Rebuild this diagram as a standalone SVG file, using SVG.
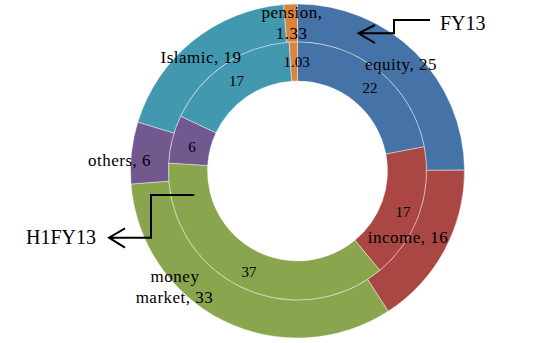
<svg xmlns="http://www.w3.org/2000/svg" width="541" height="343" viewBox="0 0 541 343">
<style>
.s{stroke:#ffffff;stroke-width:0.7;stroke-opacity:0.6}
.eq{fill:#4572A7}.inc{fill:#AA4643}.mm{fill:#89A54E}.oth{fill:#71588F}.isl{fill:#4198AF}.pen{fill:#DB843D}
.lbl{font-family:"Liberation Serif","Times New Roman",serif;font-size:17px;fill:#000;text-anchor:middle;letter-spacing:0.5px}
.num{font-family:"Liberation Serif","Times New Roman",serif;font-size:15px;fill:#000;text-anchor:middle}
.big{font-family:"Liberation Serif","Times New Roman",serif;font-size:20px;fill:#000}
.ln{fill:none;stroke:#000;stroke-width:2}
</style>
<rect width="541" height="343" fill="#ffffff"/>
<g id="outer-ring">
<path id="fy13-equity" class="eq s" d="M297.5,4 A167,167 0 0 1 464.50,170.14 L426.50,170.33 A129,129 0 0 0 297.5,42 Z"/>
<path id="fy13-income" class="inc s" d="M464.50,170.14 A167,167 0 0 1 388.18,311.24 L367.54,279.33 A129,129 0 0 0 426.50,170.33 Z"/>
<path id="fy13-money" class="mm s" d="M388.18,311.24 A167,167 0 0 1 131.01,184.03 L168.89,181.07 A129,129 0 0 0 367.54,279.33 Z"/>
<path id="fy13-others" class="oth s" d="M131.01,184.03 A167,167 0 0 1 137.84,122.03 L174.17,133.17 A129,129 0 0 0 168.89,181.07 Z"/>
<path id="fy13-islamic" class="isl s" d="M137.84,122.03 A167,167 0 0 1 283.61,4.58 L286.77,42.45 A129,129 0 0 0 174.17,133.17 Z"/>
<path id="fy13-pension" class="pen s" d="M283.61,4.58 A167,167 0 0 1 297.5,4 L297.5,42 A129,129 0 0 0 286.77,42.45 Z"/>
</g>
<g id="inner-ring">
<path id="h1-equity" class="eq s" d="M297.5,42 A129,129 0 0 1 424.21,146.77 L385.90,154.10 A90,90 0 0 0 297.5,81 Z"/>
<path id="h1-income" class="inc s" d="M424.21,146.77 A129,129 0 0 1 379.80,270.34 L354.92,240.31 A90,90 0 0 0 385.90,154.10 Z"/>
<path id="h1-money" class="mm s" d="M379.80,270.34 A129,129 0 0 1 168.74,163.08 L207.67,165.48 A90,90 0 0 0 354.92,240.31 Z"/>
<path id="h1-others" class="oth s" d="M168.74,163.08 A129,129 0 0 1 180.69,116.26 L216.01,132.81 A90,90 0 0 0 207.67,165.48 Z"/>
<path id="h1-islamic" class="isl s" d="M180.69,116.26 A129,129 0 0 1 289.16,42.27 L291.68,81.19 A90,90 0 0 0 216.01,132.81 Z"/>
<path id="h1-pension" class="pen s" d="M289.16,42.27 A129,129 0 0 1 297.5,42 L297.5,81 A90,90 0 0 0 291.68,81.19 Z"/>
</g>
<g id="outer-labels">
<text class="lbl" x="401" y="70">equity, 25</text>
<text class="lbl" x="408" y="243">income, 16</text>
<text class="lbl" x="175" y="282">money</text>
<text class="lbl" x="174.5" y="303">market, 33</text>
<text class="lbl" x="119.5" y="166">others, 6</text>
<text class="lbl" x="201" y="63">Islamic, 19</text>
<text class="lbl" x="292" y="18">pension,</text>
<text class="lbl" x="291.5" y="39">1.33</text>
</g>
<g id="inner-labels">
<text class="num" x="370" y="93">22</text>
<text class="num" x="403" y="217">17</text>
<text class="num" x="249" y="277">37</text>
<text class="num" x="192" y="152">6</text>
<text class="num" x="236.5" y="86">17</text>
<text class="num" x="296.5" y="67">1.03</text>
</g>
<g id="connectors">
<path class="ln" d="M430,20 H394 V33.3 H358.5 M375,25 L358.5,33.3 L375,43"/>
<path class="ln" d="M194.3,195 H151 V237.7 H109 M125,228.3 L109,237.7 L125,247.7"/>
</g>
<g id="legend-labels">
<text class="big" x="440" y="30">FY13</text>
<text class="big" x="26" y="244">H1FY13</text>
</g>
</svg>
